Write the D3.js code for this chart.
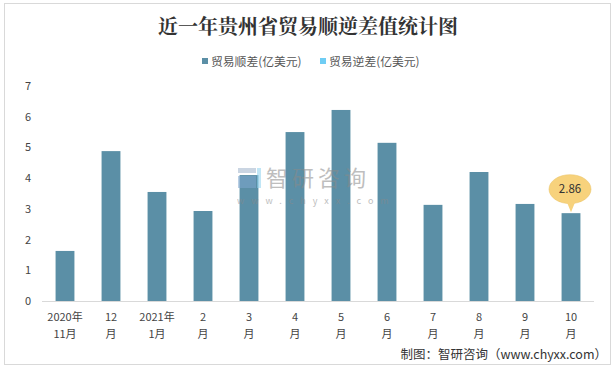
<!DOCTYPE html>
<html><head><meta charset="utf-8">
<script src="https://cdn.jsdelivr.net/npm/d3@7"></script>
<style>body{margin:0;background:#fff}svg{display:block}</style>
</head><body>
<svg id="c" width="615" height="369"></svg>
<script>
const categories = [["2020年","11月"],["12","月"],["2021年","1月"],["2","月"],["3","月"],["4","月"],["5","月"],["6","月"],["7","月"],["8","月"],["9","月"],["10","月"]];
const surplus = [1.63, 4.88, 3.55, 2.93, 4.1, 5.5, 6.22, 5.15, 3.13, 4.2, 3.16, 2.86];
const yTicks = [0,1,2,3,4,5,6,7];
const seriesNames = ["贸易顺差(亿美元)", "贸易逆差(亿美元)"];
const seriesColors = ["#5b8fa6", "#6fcdf4"];
const title = "近一年贵州省贸易顺逆差值统计图";
const source = "制图：智研咨询（www.chyxx.com）";
const calloutLabel = "2.86";

(function(){
const font = "'Noto Sans CJK SC','Microsoft YaHei',sans-serif";
const svg = d3.select("#c");
svg.append("rect").attr("x",4.5).attr("y",3.5).attr("width",606).attr("height",361)
  .attr("fill","#fff").attr("stroke","#d9d9d9");

svg.append("text").attr("x",308).attr("y",34).attr("text-anchor","middle")
  .attr("font-family","'Noto Serif CJK SC','Noto Sans CJK SC',serif").attr("font-weight","bold")
  .attr("font-size",20).attr("fill","#333").text(title);

const lg = [{x:202, name:seriesNames[0], c:seriesColors[0]},{x:320, name:seriesNames[1], c:seriesColors[1]}];
lg.forEach(d=>{
  svg.append("rect").attr("x",d.x).attr("y",58).attr("width",6).attr("height",6).attr("fill",d.c);
  svg.append("text").attr("x",d.x+9).attr("y",65.5).attr("font-family",font).attr("font-size",11.8)
    .attr("fill","#555").text(d.name);
});

const x = d3.scaleBand().domain(d3.range(categories.length)).range([42,594]).paddingInner(0.59).paddingOuter(0.295);
const y = d3.scaleLinear().domain([0,7]).range([301,86]);

svg.append("g").selectAll("text").data(yTicks).join("text")
  .attr("x",28).attr("y",d=>y(d)+4).attr("text-anchor","middle")
  .attr("font-family",font).attr("font-size",11).attr("fill","#444").text(d=>d);

svg.append("g").selectAll("rect").data(surplus).join("rect")
  .attr("x",(d,i)=>x(i)).attr("width",x.bandwidth())
  .attr("y",d=>y(d)).attr("height",d=>y(0)-y(d)).attr("fill",seriesColors[0]);

const wm = svg.append("g").attr("opacity",0.55);
wm.append("rect").attr("x",238).attr("y",168).attr("width",18).attr("height",5).attr("fill","#9fb3cc");
wm.append("rect").attr("x",238).attr("y",176).attr("width",18).attr("height",12).attr("fill","#7fa7cf");
wm.append("rect").attr("x",257).attr("y",168).attr("width",4).attr("height",20).attr("fill","#8fd3f0");
wm.append("text").attr("x",266).attr("y",186).attr("font-family",font).attr("font-size",22)
  .attr("fill","#8a8a8a").attr("letter-spacing",4).text("智研咨询");
wm.append("text").attr("x",237).attr("y",204).attr("font-family",font).attr("font-size",9)
  .attr("fill","#8a8a8a").attr("letter-spacing",7).text("www.chyxx.com");

svg.append("line").attr("x1",42).attr("x2",594).attr("y1",301.5).attr("y2",301.5).attr("stroke","#d9d9d9");
const xl = svg.append("g").selectAll("text").data(categories).join("text")
  .attr("font-family",font).attr("font-size",11).attr("fill","#444").attr("text-anchor","middle");
xl.append("tspan").attr("x",(d,i)=>x(i)+x.bandwidth()/2).attr("y",321).text(d=>d[0]);
xl.append("tspan").attr("x",(d,i)=>x(i)+x.bandwidth()/2).attr("y",338).text(d=>d[1]);

const li = surplus.length-1;
const cx = x(li)+x.bandwidth()/2, barTop = y(surplus[li]);
const cy = barTop-24;
svg.append("ellipse").attr("cx",cx-1).attr("cy",cy).attr("rx",21).attr("ry",14.5).attr("fill","#f7d27c").attr("stroke","#e8c060").attr("stroke-width",0.5);
svg.append("path").attr("d",`M${cx-4.5},${cy+12} L${cx},${barTop-1} L${cx+4.5},${cy+12} Z`).attr("fill","#f7d27c");
svg.append("text").attr("x",cx-1).attr("y",cy+4).attr("text-anchor","middle").attr("font-family",font)
  .attr("font-size",11.5).attr("fill","#333").text(calloutLabel);

svg.append("text").attr("x",607).attr("y",359).attr("text-anchor","end").attr("font-family",font)
  .attr("font-size",12.5).attr("fill","#333").text(source);
})();
</script>
</body></html>
